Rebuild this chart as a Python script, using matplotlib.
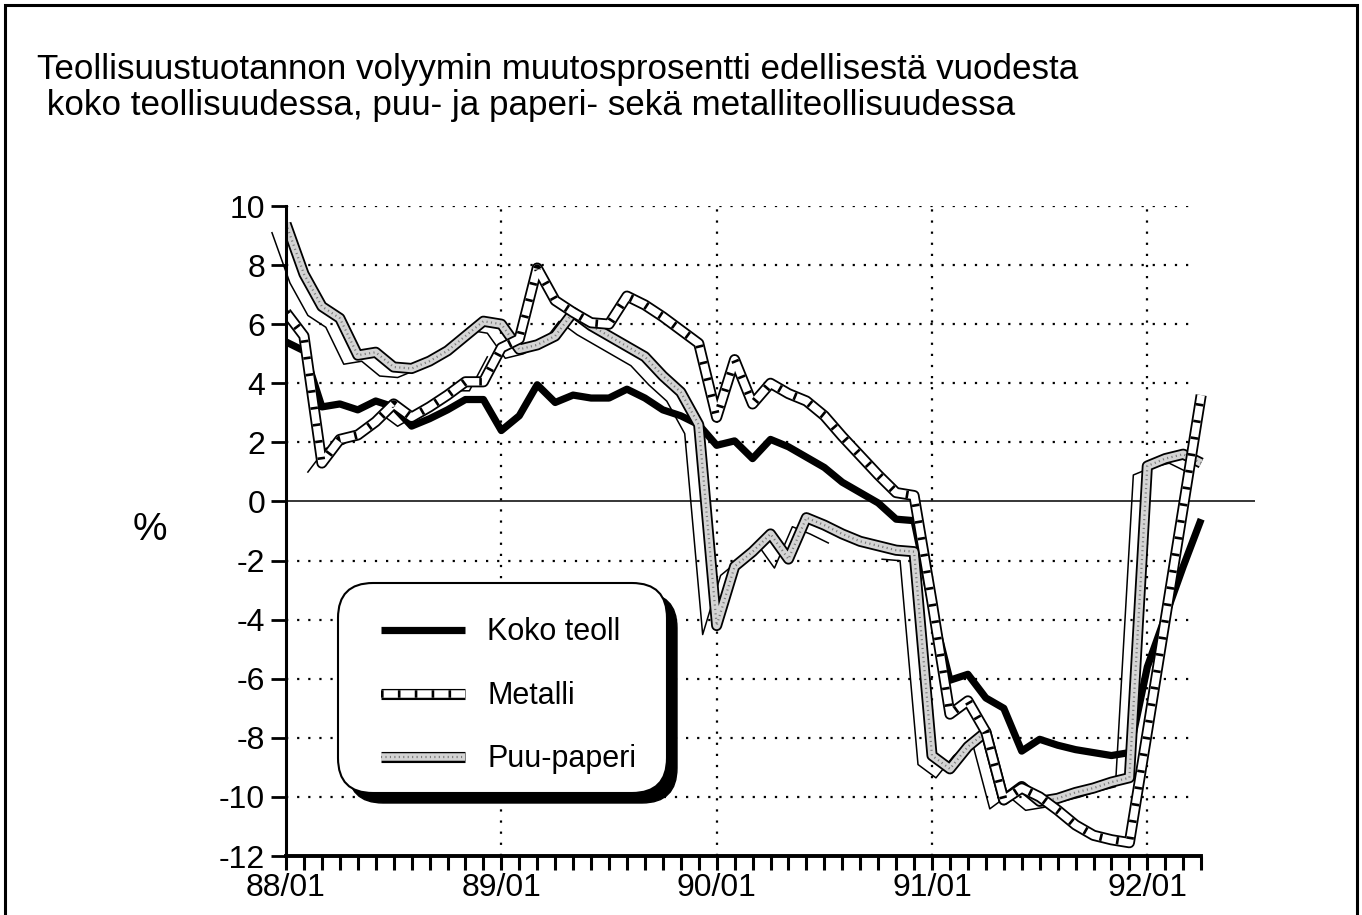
import numpy as np
import matplotlib.pyplot as plt
from matplotlib.lines import Line2D
from matplotlib.patches import FancyBboxPatch, Rectangle
from matplotlib.transforms import ScaledTranslation

plt.rcParams['font.family'] = ['Liberation Sans', 'DejaVu Sans']

# monthly % change from previous year, 88/01 .. 92/04
koko = [5.4, 5.1, 3.2, 3.3, 3.1, 3.4, 3.2, 2.55, 2.8, 3.1, 3.45, 3.45,
        2.4, 2.9, 3.95, 3.35, 3.6, 3.5, 3.5, 3.8, 3.5, 3.1, 2.9, 2.6,
        1.9, 2.05, 1.45, 2.1, 1.85, 1.5, 1.15, 0.65, 0.3, -0.05, -0.6, -0.65,
        -3.6, -6.05, -5.85, -6.65, -7.0, -8.45, -8.05, -8.25, -8.4, -8.5, -8.6, -8.5,
        -5.6, -3.9, -2.2, -0.6]
metalli = [6.4, 5.6, 1.3, 2.1, 2.25, 2.7, 3.3, 2.85, 3.2, 3.6, 4.05, 4.05,
           5.2, 5.5, 7.9, 6.8, 6.4, 6.05, 6.0, 6.95, 6.65, 6.25, 5.8, 5.35,
           2.85, 4.8, 3.3, 4.0, 3.65, 3.4, 2.9, 2.2, 1.55, 0.9, 0.3, 0.2,
           -3.4, -7.2, -6.75, -7.8, -10.1, -9.7, -10.0, -10.45, -10.95, -11.3, -11.45, -11.55,
           -7.8, -4.0, -0.2, 3.6]
puu = [9.4, 7.7, 6.6, 6.2, 4.95, 5.05, 4.55, 4.5, 4.75, 5.1, 5.6, 6.1,
       6.0, 5.15, 5.3, 5.6, 6.4, 5.95, 5.6, 5.25, 4.9, 4.25, 3.7, 2.6,
       -4.2, -2.2, -1.7, -1.1, -1.95, -0.55, -0.8, -1.1, -1.35, -1.5, -1.65, -1.7,
       -8.6, -9.05, -8.3, -7.8, -10.1, -9.65, -10.15, -10.05, -9.85, -9.7, -9.5, -9.35,
       1.2, 1.45, 1.6, 1.3]

series_names = ['Koko teoll', 'Metalli', 'Puu-paperi']
tick_labels = ['88/01', '89/01', '90/01', '91/01', '92/01']
title_lines = ['Teollisuustuotannon volyymin muutosprosentti edellisestä vuodesta',
               ' koko teollisuudessa, puu- ja paperi- sekä metalliteollisuudessa']
y_label = '%'

# band styles (layers drawn on top of each other)
koko_style = [dict(color='black', lw=5.2, solid_joinstyle='round', solid_capstyle='butt')]
metalli_style = [dict(color='black', lw=8.0, solid_joinstyle='round', solid_capstyle='butt'),
                 dict(color='white', lw=5.4, solid_joinstyle='round', solid_capstyle='butt'),
                 dict(color='black', lw=5.4, linestyle=(0, (0.35, 1.9)), dash_capstyle='butt')]
puu_style = [dict(color='black', lw=8.0, solid_joinstyle='round', solid_capstyle='butt'),
             dict(color='#d4d4d4', lw=5.4, solid_joinstyle='round', solid_capstyle='butt'),
             dict(color='#7a7a7a', lw=1.6, linestyle=(0, (0.5, 1.5)))]
styles = [koko_style, metalli_style, puu_style]

fig = plt.figure(figsize=(13.62, 9.15), dpi=100)
ax = fig.add_axes([286 / 1362, 1 - 856 / 915, 969 / 1362, 650 / 915])

months = np.arange(len(koko))
n_last = len(koko) - 1

# grid
for v in range(-10, 11, 2):
    if v != 0:
        ax.hlines(v, 0, 50.6, colors='black', lw=1.6, linestyles=(0, (1, 4)))
for m in 12 * np.arange(1, len(tick_labels)):
    ax.vlines(m, -12, 10, colors='black', lw=1.6, linestyles=(0, (1, 4)))
ax.axhline(0, color='black', lw=1.1)

# misregistered thin outlines
shift = ax.transData + ScaledTranslation(-14 / 100, -9 / 100, fig.dpi_scale_trans)
ax.plot(months[:32], puu[:32], color='black', lw=1.1, transform=shift, clip_on=False)
ax.plot(months[34:], puu[34:], color='black', lw=1.1, transform=shift, clip_on=False)
ax.plot(months[2:13], metalli[2:13], color='black', lw=1.1, transform=shift, clip_on=False)

for data, style in zip([koko, puu, metalli], [koko_style, puu_style, metalli_style]):
    for layer in style:
        ax.plot(months, data, **layer)

ax.set_xlim(0, 54)
ax.set_ylim(-12, 10)
ax.spines['top'].set_visible(False)
ax.spines['right'].set_visible(False)
ax.spines['left'].set_linewidth(2.2)
ax.spines['bottom'].set_linewidth(2.8)
ax.spines['bottom'].set_bounds(0, n_last)

xlabels = [''] * len(months)
for k, lab in enumerate(tick_labels):
    xlabels[12 * k] = lab
ax.set_xticks(months)
ax.set_xticklabels(xlabels, fontsize=23)
ax.set_yticks(range(-12, 11, 2))
ax.set_yticklabels([str(v) for v in range(-12, 11, 2)], fontsize=23)
ax.tick_params(axis='x', length=10, width=2.2, pad=2)
ax.tick_params(axis='y', length=11, width=2.0, pad=4)

fig.text(150 / 1362, 1 - 530 / 915, y_label, fontsize=28, ha='center', va='center')
fig.text(37 / 1362, 1 - 70 / 915, title_lines[0], fontsize=25.2, ha='left', va='center')
fig.text(37 / 1362, 1 - 106 / 915, title_lines[1], fontsize=25.2, ha='left', va='center')

# outer frame
fig.add_artist(Rectangle((5 / 1362, -0.1), 1352 / 1362, 1.1 - 5 / 915, transform=fig.transFigure,
                         fill=False, lw=2.2, edgecolor='black'))

# legend box with shadow (inches)
bx, by, bw, bh = 3.38, 1.22, 3.29, 2.10
fig.add_artist(FancyBboxPatch((bx + 0.1, by - 0.1), bw, bh, boxstyle='round,pad=0,rounding_size=0.35',
                              transform=fig.dpi_scale_trans, facecolor='black', edgecolor='black'))
fig.add_artist(FancyBboxPatch((bx, by), bw, bh, boxstyle='round,pad=0,rounding_size=0.35',
                              transform=fig.dpi_scale_trans, facecolor='white', edgecolor='black', lw=1.5))
for k, (name, style) in enumerate(zip(series_names, styles)):
    yy = 2.85 - 0.635 * k
    for layer in style:
        fig.add_artist(Line2D([3.81, 4.65], [yy, yy], transform=fig.dpi_scale_trans, **layer))
    fig.text(4.87, yy - 0.02, name, fontsize=22, ha='left', va='center', transform=fig.dpi_scale_trans)

fig.savefig('out.png', dpi=100)
